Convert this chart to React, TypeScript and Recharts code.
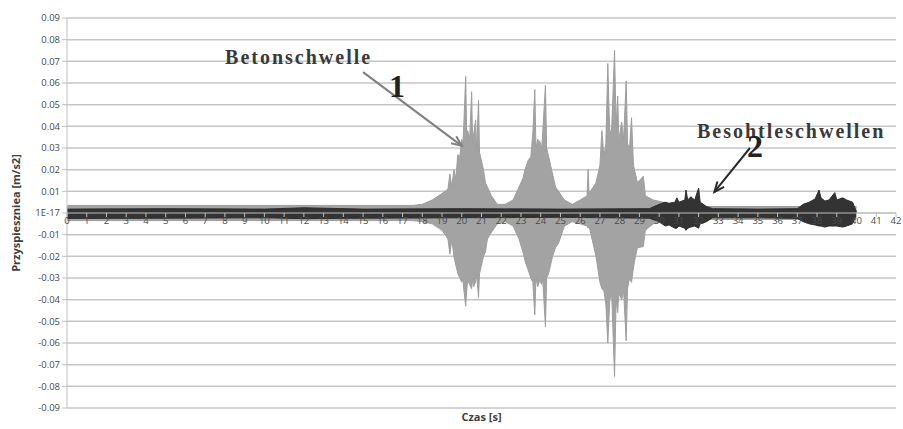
import {
  ComposedChart,
  Area,
  XAxis,
  YAxis,
  CartesianGrid,
  ReferenceLine,
} from 'recharts';

// Betonschwelle (grey) envelope: time [s], upper and lower peak [m/s2]
const greyT = [
  0, 17.5, 18, 18.5, 19, 19.3, 19.4, 19.5, 19.6, 19.7, 19.8, 19.9, 20, 20.05, 20.1, 20.2, 20.25, 20.3,
  20.4, 20.5, 20.55, 20.6, 20.7, 20.75, 20.85, 20.9, 21, 21.1, 21.2, 21.3, 21.5, 21.8, 22.2, 22.6, 22.9,
  23.1, 23.2, 23.35, 23.5, 23.6, 23.7, 23.76, 23.85, 23.95, 24.05, 24.1, 24.24, 24.3, 24.4, 24.5, 24.6,
  24.75, 24.9, 25.2, 25.6, 26, 26.35, 26.4, 26.45, 26.8, 26.9, 27, 27.1, 27.2, 27.3, 27.4, 27.5, 27.6,
  27.74, 27.82, 27.9, 27.95, 28, 28.1, 28.2, 28.33, 28.4, 28.5, 28.6, 28.7, 28.8, 28.9, 29.2, 29.3,
  29.7, 30.2, 31, 40,
];
const greyHi = [
  0.0035, 0.0035, 0.004, 0.006, 0.009, 0.011, 0.018, 0.012, 0.02, 0.016, 0.027, 0.026, 0.034, 0.031,
  0.04, 0.063, 0.035, 0.038, 0.034, 0.056, 0.032, 0.036, 0.043, 0.029, 0.052, 0.028, 0.024, 0.02,
  0.014, 0.012, 0.008, 0.004, 0.004, 0.006, 0.012, 0.016, 0.02, 0.024, 0.026, 0.037, 0.057, 0.03, 0.034,
  0.033, 0.03, 0.037, 0.059, 0.03, 0.026, 0.022, 0.018, 0.012, 0.01, 0.006, 0.004, 0.006, 0.008, 0.02,
  0.009, 0.014, 0.018, 0.022, 0.038, 0.026, 0.032, 0.069, 0.035, 0.04, 0.075, 0.04, 0.054, 0.036,
  0.036, 0.042, 0.034, 0.061, 0.032, 0.03, 0.044, 0.022, 0.018, 0.014, 0.017, 0.008, 0.006, 0.005,
  0.003, 0.003,
];
const greyLo = [
  -0.0035, -0.0035, -0.004, -0.005, -0.008, -0.012, -0.019, -0.012, -0.02, -0.024, -0.028, -0.03,
  -0.032, -0.03, -0.035, -0.043, -0.036, -0.031, -0.033, -0.035, -0.03, -0.034, -0.032, -0.028, -0.039,
  -0.028, -0.024, -0.02, -0.018, -0.012, -0.009, -0.005, -0.004, -0.006, -0.012, -0.018, -0.022,
  -0.026, -0.03, -0.032, -0.047, -0.03, -0.034, -0.031, -0.033, -0.03, -0.0525, -0.03, -0.028, -0.024,
  -0.02, -0.016, -0.014, -0.006, -0.004, -0.005, -0.006, -0.007, -0.006, -0.02, -0.026, -0.032, -0.035,
  -0.036, -0.042, -0.06, -0.04, -0.038, -0.0755, -0.04, -0.046, -0.038, -0.038, -0.04, -0.036, -0.059,
  -0.035, -0.03, -0.032, -0.025, -0.02, -0.016, -0.0155, -0.008, -0.005, -0.004, -0.003, -0.003,
];

// Besohlteschwellen (dark) envelope
const darkT = [
  0, 5, 10, 12, 15, 20, 25, 29.5, 30, 30.3, 30.5, 30.8, 30.9, 31, 31.3, 31.36, 31.45, 31.6, 31.8, 32,
  32.08, 32.4, 32.7, 35, 37, 37.3, 37.6, 37.9, 38.1, 38.2, 38.4, 38.6, 38.9, 39, 39.3, 39.5, 39.8, 40,
];
const darkHi = [
  0.0018, 0.002, 0.0018, 0.0024, 0.0018, 0.002, 0.0018, 0.002, 0.004, 0.005, 0.0045, 0.005, 0.007,
  0.005, 0.006, 0.0106, 0.006, 0.0075, 0.006, 0.0115, 0.005, 0.003, 0.002, 0.0018, 0.002, 0.004, 0.005,
  0.0065, 0.0106, 0.007, 0.0055, 0.006, 0.0094, 0.006, 0.007, 0.006, 0.005, 0.0005,
];
const darkLo = [
  -0.0025, -0.0024, -0.0022, -0.0026, -0.0024, -0.0022, -0.002, -0.0024, -0.004, -0.006, -0.0055,
  -0.007, -0.007, -0.006, -0.007, -0.008, -0.007, -0.0065, -0.006, -0.007, -0.005, -0.004, -0.0022,
  -0.0022, -0.0025, -0.004, -0.005, -0.0055, -0.006, -0.006, -0.0065, -0.006, -0.006, -0.006, -0.0065,
  -0.006, -0.005, -0.0005,
];

const yTicks = [
  -0.09, -0.08, -0.07, -0.06, -0.05, -0.04, -0.03, -0.02, -0.01, 0, 0.01, 0.02, 0.03, 0.04, 0.05, 0.06,
  0.07, 0.08, 0.09,
];
const xTicks = Array.from({ length: 43 }, (_, i) => i);

const greyData = greyT.map((t, i) => ({ t, range: [greyLo[i], greyHi[i]] }));
const darkData = darkT.map((t, i) => ({ t, range: [darkLo[i], darkHi[i]] }));

const W = 903;
const H = 429;
const MARGIN = { top: 18, right: 7, left: 0, bottom: 0 };
const Y_AXIS_W = 67;
const X_AXIS_H = 21;
const PLOT_H = H - MARGIN.top - MARGIN.bottom - X_AXIS_H;

const XTick = (props: any) => {
  const { x, payload } = props;
  // axis labels sit on the zero line, as in the Excel original
  const zeroY = MARGIN.top + PLOT_H / 2;
  return (
    <g>
      <line x1={x} y1={zeroY} x2={x} y2={zeroY + 4} stroke="#bfbfbf" />
      <text x={x} y={zeroY + 11} textAnchor="middle" fontSize={9.5} fill="#4a4a4a">
        {payload.value}
      </text>
    </g>
  );
};

const makeArrow =
  (label: string, num: string, color: string, tx: number, ty: number, nx: number, ny: number) =>
  (p: any) => {
    const { x1, y1, x2, y2 } = p;
    const a = Math.atan2(y2 - y1, x2 - x1);
    const len = 11;
    const hx1 = x2 - len * Math.cos(a - 0.4);
    const hy1 = y2 - len * Math.sin(a - 0.4);
    const hx2 = x2 - len * Math.cos(a + 0.4);
    const hy2 = y2 - len * Math.sin(a + 0.4);
    return (
      <g>
        <line x1={x1} y1={y1} x2={x2} y2={y2} stroke={color} strokeWidth={2} />
        <polyline
          points={`${hx1},${hy1} ${x2},${y2} ${hx2},${hy2}`}
          fill="none"
          stroke={color}
          strokeWidth={2}
        />
        <text
          x={x1 + tx}
          y={y1 + ty}
          fontFamily="'Liberation Serif', serif"
          fontWeight="bold"
          fontSize={20}
          letterSpacing={2}
          fill="#3a3a3a"
        >
          {label}
        </text>
        <text
          x={x1 + nx}
          y={y1 + ny}
          fontFamily="'Liberation Serif', serif"
          fontWeight="bold"
          fontSize={32}
          textAnchor="middle"
          fill="#222"
        >
          {num}
        </text>
      </g>
    );
  };

export default function App() {
  return (
    <div style={{ position: 'absolute', left: 0, top: 0, width: W, height: H, background: '#fff' }}>
      <ComposedChart
        width={W}
        height={H}
        margin={MARGIN}
        style={{ fontFamily: "'Open Sans', 'Liberation Sans', sans-serif" }}
      >
        <CartesianGrid vertical={false} stroke="#c6c6c6" strokeWidth={1.5} />
        <XAxis
          type="number"
          dataKey="t"
          domain={[0, 42]}
          ticks={xTicks}
          interval={0}
          height={X_AXIS_H}
          axisLine={false}
          tickLine={false}
          tick={<XTick />}
          label={{
            value: 'Czas [s]',
            position: 'insideBottom',
            offset: 8,
            fontSize: 11,
            fontWeight: 'bold',
            fill: '#404040',
          }}
        />
        <YAxis
          type="number"
          domain={[-0.09, 0.09]}
          ticks={yTicks}
          interval={0}
          width={Y_AXIS_W}
          axisLine={{ stroke: '#bfbfbf' }}
          tickLine={{ stroke: '#bfbfbf' }}
          tickSize={5}
          tick={{ fontSize: 9.5, fill: '#4a4a4a' }}
          tickFormatter={(v: number) => (Math.abs(v) < 1e-9 ? '1E-17' : v.toFixed(2))}
          label={{
            value: 'Przyspieszniea [m/s2]',
            angle: -90,
            position: 'insideLeft',
            offset: 16,
            fontSize: 11,
            fontWeight: 'bold',
            fill: '#404040',
            style: { textAnchor: 'middle' },
          }}
        />
        <ReferenceLine y={0} stroke="#bfbfbf" />
        <Area
          data={greyData}
          dataKey="range"
          type="linear"
          stroke="#9e9e9e"
          strokeWidth={1}
          fill="#a3a3a3"
          fillOpacity={1}
          isAnimationActive={false}
          dot={false}
          activeDot={false}
        />
        <Area
          data={darkData}
          dataKey="range"
          type="linear"
          stroke="#2e2e2e"
          strokeWidth={1}
          fill="#333333"
          fillOpacity={1}
          isAnimationActive={false}
          dot={false}
          activeDot={false}
        />
        <ReferenceLine
          segment={[
            { x: 15, y: 0.065 },
            { x: 20, y: 0.031 },
          ]}
          shape={makeArrow('Betonschwelle', '1', '#808080', -138, -8, 34, 25)}
        />
        <ReferenceLine
          segment={[
            { x: 34.6, y: 0.03 },
            { x: 32.8, y: 0.0097 },
          ]}
          shape={makeArrow('Besohtleschwellen', '2', '#2a2a2a', -53, -10, 5, 9)}
        />
      </ComposedChart>
    </div>
  );
}
